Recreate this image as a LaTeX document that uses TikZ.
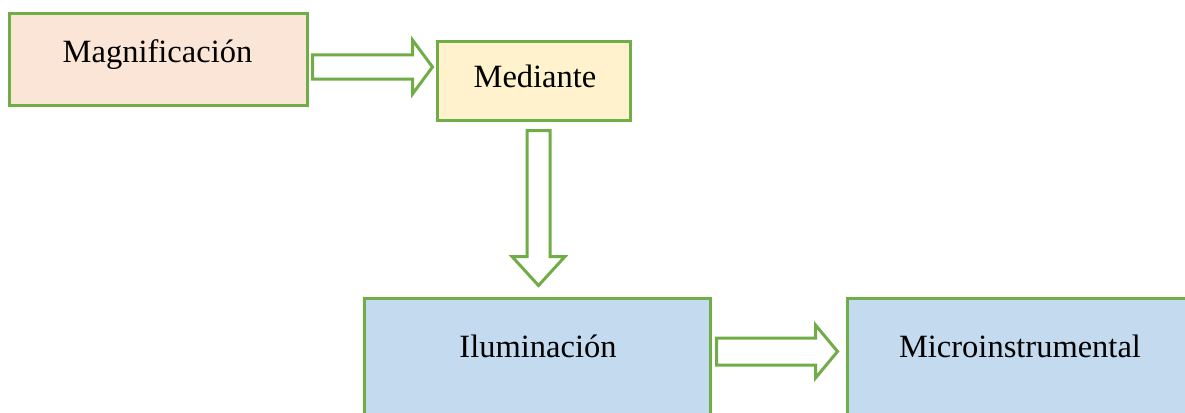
\documentclass[tikz,border=0pt]{standalone}
\usepackage{fontspec}
\setmainfont{Liberation Serif}
\usetikzlibrary{calc}
\definecolor{lgreen}{HTML}{70AD47}
\definecolor{pinkf}{HTML}{FBE5D6}
\definecolor{yellowf}{HTML}{FFF2CC}
\definecolor{bluef}{HTML}{C3DAEF}
\tikzset{
  box/.style={draw=lgreen, line width=3pt, rectangle, inner sep=0pt, outer sep=0pt},
  lbl/.style={anchor=base, inner sep=0pt, font=\fontsize{32.5}{38}\selectfont, text=black},
  barrow/.style={draw=lgreen, line width=3pt, fill=white, line join=miter}
}
\begin{document}
\begin{tikzpicture}[x=1pt,y=-1pt]
\useasboundingbox (0,0) rectangle (1185,412);
\clip (0,0) rectangle (1185,412);
\fill[white] (0,0) rectangle (1185,412);
% boxes
\node[box, fill=pinkf, minimum width=298pt, minimum height=91pt] (mag) at (158,59.5) {};
\node[box, fill=yellowf, minimum width=193pt, minimum height=78pt] (med) at (533.5,81) {};
\node[box, fill=bluef, minimum width=346pt, minimum height=130pt] (ilu) at (537,363) {};
\node[box, fill=bluef, minimum width=350pt, minimum height=130pt] (mic) at (1022,363) {};
% labels
\node[lbl] (tmag) at (157.5,63) {Magnificación};
\node[lbl] (tmed) at (535,88) {Mediante};
\node[lbl] (tilu) at (538,357) {Iluminación};
\node[lbl] (tmic) at (1020,357) {Microinstrumental};
% block arrows
\coordinate (a1) at ($(mag.east)!0!(mag.east)+(5.5,7.5)$);
\coordinate (a2) at ($(med.south)+(5,10.5)$);
\coordinate (a3) at ($(ilu.east)+(6.5,-11.5)$);
\draw[barrow, shift={(a1)}] (0,-12) -- (100,-12) -- (100,-27) -- (120,0) -- (100,27) -- (100,12) -- (0,12) -- cycle;
\draw[barrow, shift={(a2)}] (-11.5,0) -- (-11.5,126) -- (-26.5,126) -- (0,155) -- (26.5,126) -- (11.5,126) -- (11.5,0) -- cycle;
\draw[barrow, shift={(a3)}] (0,-13.5) -- (99,-13.5) -- (99,-26.5) -- (121,0) -- (99,26.5) -- (99,13.5) -- (0,13.5) -- cycle;
\end{tikzpicture}
\end{document}
